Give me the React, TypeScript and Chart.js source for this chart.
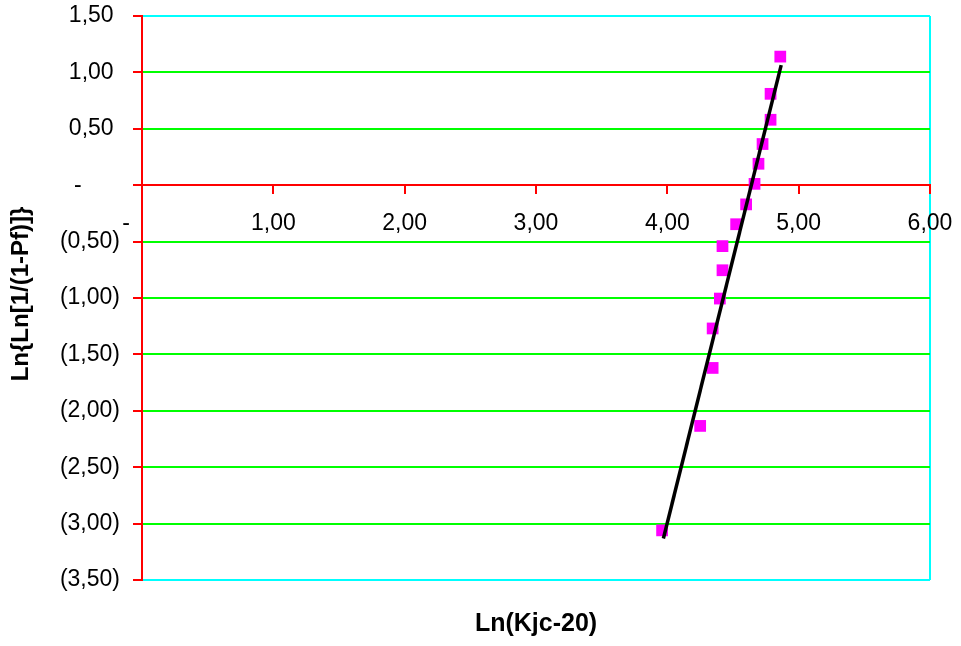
import React, { useEffect, useRef } from "react";
import { Chart, registerables } from "chart.js";

Chart.register(...registerables);

const pointsX = [4.86, 4.786, 4.786, 4.725, 4.694, 4.664, 4.60, 4.524, 4.42, 4.42, 4.40, 4.345, 4.345, 4.25, 3.96];
const pointsY = [1.14, 0.81, 0.58, 0.365, 0.19, 0.012, -0.17, -0.346, -0.54, -0.754, -1.005, -1.27, -1.62, -2.134, -3.06];
const trendX = [3.97, 4.867];
const trendY = [-3.132, 1.064];

const xTitle = "Ln(Kjc-20)";
const yTitle = "Ln{Ln[1/(1-Pf)]}";

const FONT = "'Liberation Sans', Arial, sans-serif";
const GREEN = "#00ff00";
const RED = "#ff0000";
const CYAN = "#00ffff";
const MAGENTA = "#ff00ff";

function fmtY(v: number): string {
  if (Math.abs(v) < 1e-9) return "-      ";
  const s = Math.abs(v).toFixed(2).replace(".", ",");
  return v < 0 ? "(" + s + ")" : s + " ";
}
function fmtX(v: number): string {
  if (Math.abs(v) < 1e-9) return "-     ";
  return v.toFixed(2).replace(".", ",");
}

function zeroPadding(s: any) {
  s.paddingTop = 0;
  s.paddingBottom = 0;
  s.paddingLeft = 0;
  s.paddingRight = 0;
}

const titlesPlugin = {
  id: "titles",
  afterDraw(chart: any) {
    const ctx = chart.ctx;
    const area = chart.chartArea;
    ctx.save();
    ctx.fillStyle = "#000";
    ctx.textAlign = "center";
    ctx.textBaseline = "middle";
    ctx.font = "bold 25px " + FONT;
    ctx.fillText(xTitle, (area.left + area.right) / 2, 624);
    ctx.font = "bold 24px " + FONT;
    ctx.translate(21, 294);
    ctx.rotate(-Math.PI / 2);
    ctx.fillText(yTitle, 0, 0);
    ctx.restore();
  },
};

export default function App() {
  const ref = useRef<HTMLCanvasElement | null>(null);
  useEffect(() => {
    if (!ref.current) return;
    const chart = new Chart(ref.current, {
      type: "scatter",
      data: {
        datasets: [
          {
            type: "line",
            data: trendX.map((x, i) => ({ x, y: trendY[i] })),
            borderColor: "#000",
            borderWidth: 3.5,
            pointRadius: 0,
            fill: false,
          } as any,
          {
            data: pointsX.map((x, i) => ({ x, y: pointsY[i] })),
            pointStyle: "rect",
            pointRadius: 8.3,
            backgroundColor: MAGENTA,
            borderColor: MAGENTA,
            borderWidth: 0,
          },
        ],
      },
      options: {
        animation: false,
        responsive: false,
        layout: { padding: { left: 0, right: 31, top: 16, bottom: 66 } },
        plugins: { legend: { display: false }, tooltip: { enabled: false } },
        scales: {
          x: {
            type: "linear",
            position: { y: 0 } as any,
            min: 0,
            max: 6,
            afterFit: zeroPadding,
            ticks: {
              stepSize: 1,
              autoSkip: false,
              maxRotation: 0,
              padding: 17,
              color: "#000",
              font: { family: FONT, size: 23 },
              callback: (v: any) => fmtX(Number(v)),
            },
            grid: {
              color: (c: any) => (c.tick && Math.abs(c.tick.value - 6) < 1e-9 ? CYAN : "rgba(0,0,0,0)"),
              lineWidth: 2,
              tickColor: RED,
              tickWidth: 2,
              tickLength: 8,
            },
            border: { color: RED, width: 2 },
          },
          y: {
            type: "linear",
            position: "left",
            min: -3.5,
            max: 1.5,
            afterFit: (s: any) => {
              s.width = 142;
              zeroPadding(s);
            },
            ticks: {
              stepSize: 0.5,
              padding: 13,
              color: "#000",
              font: { family: FONT, size: 23 },
              callback: (v: any) => fmtY(Number(v)),
            },
            grid: {
              color: (c: any) => {
                const v = c.tick ? c.tick.value : 0;
                if (Math.abs(v) < 1e-9) return RED;
                if (Math.abs(v - 1.5) < 1e-9 || Math.abs(v + 3.5) < 1e-9) return CYAN;
                return GREEN;
              },
              lineWidth: 2,
              tickColor: RED,
              tickWidth: 2,
              tickLength: 9,
            },
            border: { color: RED, width: 2 },
          },
        },
      },
      plugins: [titlesPlugin],
    });
    return () => chart.destroy();
  }, []);
  return (
    <div style={{ position: "absolute", left: 0, top: 0, width: 961, height: 646 }}>
      <canvas ref={ref} width={961} height={646} style={{ display: "block" }} />
    </div>
  );
}
